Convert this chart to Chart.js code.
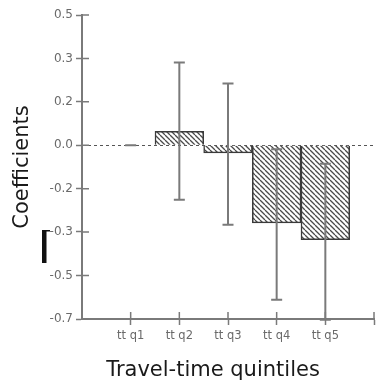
<!DOCTYPE html>
<html>
<head>
<meta charset="utf-8">
<script src="https://cdn.jsdelivr.net/npm/chart.js@4.4.1/dist/chart.umd.min.js"></script>
<style>
  html, body { margin: 0; padding: 0; background: #fff; }
  #wrap { width: 378px; height: 390px; }
</style>
</head>
<body>
<div id="wrap"><canvas id="chart"></canvas></div>
<script>
// Dados
const categories = ['tt q1', 'tt q2', 'tt q3', 'tt q4', 'tt q5'];
const coefficients = [0, 0.053, -0.029, -0.298, -0.362];
const ciLow = [0, -0.209, -0.305, -0.593, -0.67];
const ciHigh = [0, 0.318, 0.237, -0.015, -0.071];
const tickValues = [-0.667, -0.5, -0.333, -0.167, 0, 0.167, 0.333, 0.5];
const tickLabels = ['-0.7', '-0.5', '-0.3', '-0.2', '0.0', '0.2', '0.3', '0.5'];
const xTitle = 'Travel-time quintiles';

const axisGray = '#7a7a7a';
const titleFont = '21px "DejaVu Sans"';

// padrão hachurado das barras
function makeHatch() {
    const s = 5;
    const c = document.createElement('canvas');
    c.width = s; c.height = s;
    const g = c.getContext('2d');
    g.fillStyle = '#fff';
    g.fillRect(0, 0, s, s);
    g.strokeStyle = '#4a4a4a';
    g.lineWidth = 1.3;
    g.beginPath();
    for (const a of [-s, 0, s]) {
        g.moveTo(a, 0);
        g.lineTo(a + s, s);
    }
    g.stroke();
    return g.createPattern(c, 'repeat');
}

// linha tracejada no zero
const zeroLine = {
    id: 'zeroLine',
    beforeDatasetsDraw(chart) {
        const { ctx, chartArea, scales: { y } } = chart;
        const py = Math.round(y.getPixelForValue(0)) + 0.5;
        ctx.save();
        ctx.strokeStyle = '#555';
        ctx.lineWidth = 1;
        ctx.setLineDash([3, 3]);
        ctx.beginPath();
        ctx.moveTo(chartArea.left, py);
        ctx.lineTo(chartArea.right, py);
        ctx.stroke();
        ctx.restore();
    }
};

// barras de erro
const errorBars = {
    id: 'errorBars',
    afterDatasetsDraw(chart) {
        const { ctx, scales: { x, y } } = chart;
        ctx.save();
        ctx.strokeStyle = '#7a7a7a';
        categories.forEach((c, i) => {
            const px = x.getPixelForValue(i + 1);
            const top = y.getPixelForValue(ciHigh[i]);
            const bot = y.getPixelForValue(ciLow[i]);
            ctx.lineWidth = 2;
            ctx.beginPath();
            ctx.moveTo(px, top);
            ctx.lineTo(px, bot);
            ctx.stroke();
            ctx.beginPath();
            ctx.moveTo(px - 5.5, top);
            ctx.lineTo(px + 5.5, top);
            ctx.moveTo(px - 5.5, bot);
            ctx.lineTo(px + 5.5, bot);
            ctx.stroke();
        });
        ctx.restore();
    }
};

// marcas dos ticks para dentro, título do eixo x e marca preta à esquerda
const extras = {
    id: 'extras',
    afterDraw(chart) {
        const { ctx, chartArea, scales: { x, y } } = chart;
        ctx.save();
        ctx.strokeStyle = axisGray;
        ctx.lineWidth = 1.5;
        ctx.beginPath();
        y.ticks.forEach((t, i) => {
            const py = y.getPixelForTick(i);
            ctx.moveTo(chartArea.left, py);
            ctx.lineTo(chartArea.left + 7, py);
        });
        x.ticks.forEach((t, i) => {
            if (i === 0) return;
            const px = x.getPixelForTick(i);
            ctx.moveTo(px, chartArea.bottom);
            ctx.lineTo(px, chartArea.bottom - 7);
        });
        ctx.stroke();

        ctx.fillStyle = '#1a1a1a';
        ctx.font = titleFont;
        ctx.textAlign = 'center';
        ctx.textBaseline = 'middle';
        ctx.fillText(xTitle, 213, 371);

        ctx.fillStyle = '#111';
        ctx.fillRect(42, 230, 4.5, 33);
        ctx.fillRect(42, 230, 8, 1.5);
        ctx.restore();
    }
};

const chart = new Chart(document.getElementById('chart'), {
    type: 'bar',
    data: {
        labels: ['', ...categories, ''],
        datasets: [{
            data: [null, ...coefficients, null],
            backgroundColor: makeHatch(),
            borderColor: '#3a3a3a',
            borderWidth: 1.5,
            categoryPercentage: 1,
            barPercentage: 1
        }]
    },
    options: {
        responsive: true,
        maintainAspectRatio: false,
        animation: false,
        layout: {
            padding: { top: 15, right: 3, left: 0, bottom: 0 }
        },
        plugins: {
            legend: { display: false },
            tooltip: { enabled: false }
        },
        scales: {
            x: {
                offset: false,
                grid: {
                    offset: false,
                    drawOnChartArea: false,
                    tickLength: 6,
                    tickColor: ctx => ctx.index === 0 ? 'rgba(0,0,0,0)' : axisGray,
                    tickWidth: 1.5
                },
                border: { color: axisGray, width: 2 },
                ticks: {
                    autoSkip: false,
                    maxRotation: 0,
                    padding: 4,
                    color: '#6a6a6a',
                    font: { family: 'DejaVu Sans', size: 11.5 }
                },
                afterFit(scale) { scale.height = 71; }
            },
            y: {
                min: -0.667,
                max: 0.5,
                afterBuildTicks(scale) {
                    scale.ticks = tickValues.map(v => ({ value: v }));
                },
                grid: {
                    drawOnChartArea: false,
                    tickLength: 6,
                    tickColor: axisGray,
                    tickWidth: 1.5
                },
                border: { color: axisGray, width: 2 },
                ticks: {
                    padding: 3,
                    color: '#6a6a6a',
                    font: { family: 'DejaVu Sans', size: 12 },
                    callback: (value, index) => tickLabels[index]
                },
                title: {
                    display: true,
                    text: 'Coefficients',
                    color: '#1a1a1a',
                    font: { family: 'DejaVu Sans', size: 21 },
                    padding: { top: 10, bottom: 0 }
                },
                afterFit(scale) { scale.width = 82; }
            }
        }
    },
    plugins: [zeroLine, errorBars, extras]
});
</script>
</body>
</html>
